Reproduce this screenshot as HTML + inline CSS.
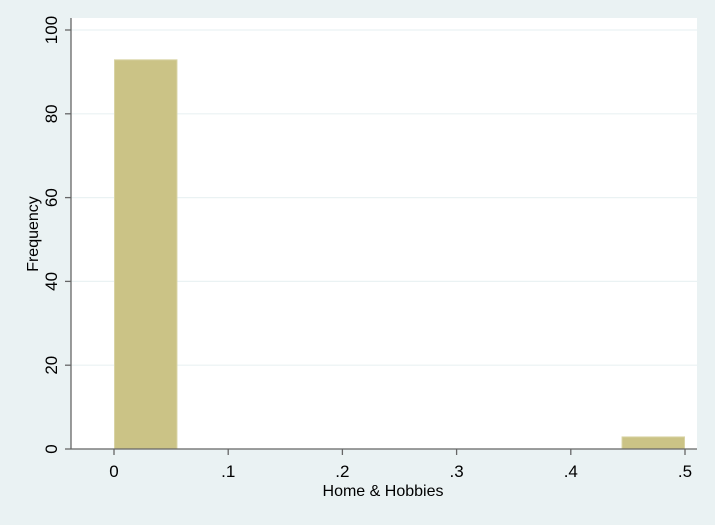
<!DOCTYPE html>
<html><head><meta charset="utf-8"><style>
body{margin:0;background:#eaf2f3;font-family:"Liberation Sans",sans-serif}
</style></head><body>
<svg id="c" width="715" height="520" xmlns="http://www.w3.org/2000/svg">
<rect x="0" y="0" width="715" height="520" fill="#eaf2f3"/>
<rect x="71" y="18" width="626" height="431" fill="#fff"/>
<g id="grid"></g><g id="bars"></g><g id="axes"></g>
</svg>
<script>
const binStart = 0;
const binWidth = 0.5/9;
const frequencies = [93,0,0,0,0,0,0,0,3];
const xTicks = [0,0.1,0.2,0.3,0.4,0.5];
const xTickLabels = ["0",".1",".2",".3",".4",".5"];
const yTicks = [0,20,40,60,80,100];
const NS="http://www.w3.org/2000/svg";
const X=v=>114+v*1142;
const Y=v=>449-v*4.19;
function mk(tag,attrs,parent,text){const e=document.createElementNS(NS,tag);for(const k in attrs)e.setAttribute(k,attrs[k]);if(text!==undefined)e.textContent=text;document.getElementById(parent).appendChild(e);return e;}
yTicks.forEach(t=>{
  const g=mk('line',{x1:71,x2:697,y1:Y(t),y2:Y(t),stroke:'#eaf2f3','stroke-width':1.2},'grid');
  
  
});
frequencies.forEach((f,i)=>{
  if(f<=0)return;
  const x0=X(binStart+i*binWidth),x1=X(binStart+(i+1)*binWidth);
  const r=mk('rect',{x:x0+0.5,y:Y(f)+0.5,width:x1-x0-1,height:Y(0)-Y(f)-0.5,fill:'#cbc386',stroke:'#d8d3a4','stroke-width':1},'bars');
  
  
});
let a=mk('line',{x1:71,x2:71,y1:18,y2:449,stroke:'#666','stroke-width':1.3},'axes');


a=mk('line',{x1:71,x2:697,y1:449,y2:449,stroke:'#666','stroke-width':1.3},'axes');


yTicks.forEach(t=>{
  const l=mk('line',{x1:65,x2:71,y1:Y(t),y2:Y(t),stroke:'#666','stroke-width':1.3},'axes');
  
  
  const tx=mk('text',{x:57,y:Y(t),transform:`rotate(-90 57 ${Y(t)})`,'text-anchor':'middle','font-size':17,fill:'#000'},'axes',String(t));
  
  
});
xTicks.forEach((t,i)=>{
  const l=mk('line',{x1:X(t),x2:X(t),y1:449,y2:455,stroke:'#666','stroke-width':1.3},'axes');
  
  
  const tx=mk('text',{x:X(t),y:477,'text-anchor':'middle','font-size':17,fill:'#000'},'axes',xTickLabels[i]);
  
  
});
let tt=mk('text',{x:383,y:496,'text-anchor':'middle','font-size':16,fill:'#000'},'axes','Home & Hobbies');


tt=mk('text',{x:38,y:234,transform:'rotate(-90 38 234)','text-anchor':'middle','font-size':16,fill:'#000'},'axes','Frequency');


</script>
</body></html>
